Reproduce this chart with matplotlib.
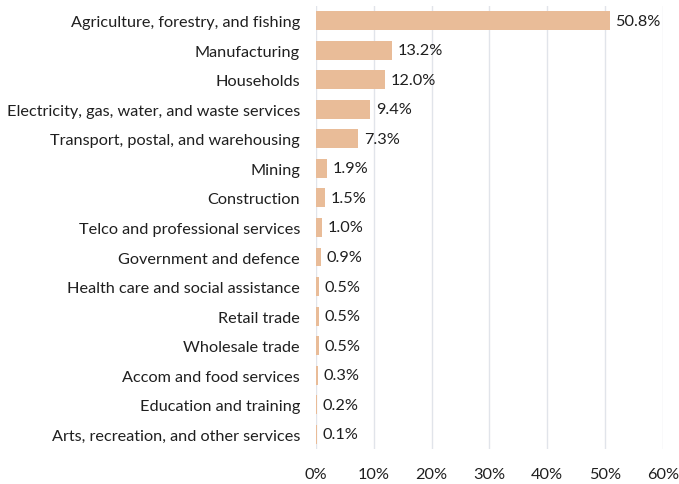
import matplotlib
matplotlib.use("Agg")
import matplotlib.pyplot as plt
from matplotlib.ticker import FuncFormatter

plt.rcParams['font.family'] = ['Lato', 'DejaVu Sans']

categories = [
    "Agriculture, forestry, and fishing",
    "Manufacturing",
    "Households",
    "Electricity, gas, water, and waste services",
    "Transport, postal, and warehousing",
    "Mining",
    "Construction",
    "Telco and professional services",
    "Government and defence",
    "Health care and social assistance",
    "Retail trade",
    "Wholesale trade",
    "Accom and food services",
    "Education and training",
    "Arts, recreation, and other services",
]
shares = [50.8, 13.2, 12.0, 9.4, 7.3, 1.9, 1.5, 1.0, 0.9, 0.5, 0.5, 0.5, 0.3, 0.2, 0.1]
x_ticks = [0, 10, 20, 30, 40, 50, 60]

bar_color = "#E9BC98"
text_color = "#1f1f1f"
grid_color = "#E1E4EA"
fs = 11.7

fig = plt.figure(figsize=(6.79, 4.85), dpi=100)
ax = fig.add_axes([0.4654, 0.0722, 0.5110, 0.9134])

y = list(range(len(categories)))
ax.barh(y, shares, height=0.64, color=bar_color, zorder=3)
for yi, v in zip(y, shares):
    ax.text(v + 1.0, yi, f"{v:.1f}%", va="center", ha="left",
            fontsize=fs, color=text_color, zorder=4)

ax.set_yticks(y)
ax.set_yticklabels(categories, fontsize=fs, color=text_color)
ax.set_ylim(len(categories) - 0.5, -0.5)
ax.set_xlim(0, 60)
ax.set_xticks(x_ticks)
ax.xaxis.set_major_formatter(FuncFormatter(lambda v, p: f"{v:.0f}%"))
ax.tick_params(axis="x", labelsize=fs, colors=text_color, length=0, pad=13)
ax.tick_params(axis="y", length=0, pad=11.5)
ax.grid(axis="x", color=grid_color, linewidth=1.0, zorder=0)
for s in ax.spines.values():
    s.set_visible(False)

fig.savefig("out.png", dpi=100)
